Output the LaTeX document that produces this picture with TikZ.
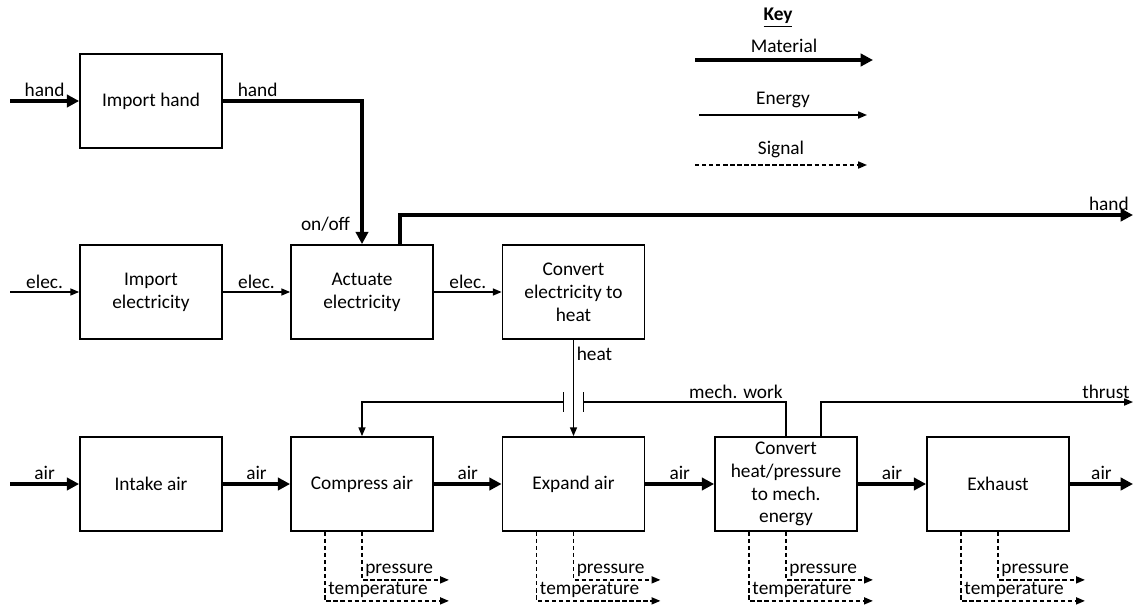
\documentclass[tikz,border=0pt]{standalone}
\usepackage{fontspec}
\setmainfont{Carlito}
\usetikzlibrary{arrows.meta, positioning, calc}

\begin{document}
\begin{tikzpicture}[
  func/.style={rectangle, draw, line width=1pt,
               minimum width=2.84cm, minimum height=1.88cm,
               inner sep=0pt, align=center, font=\fontsize{11}{13}\selectfont},
  lbl/.style={font=\fontsize{11}{13}\selectfont, inner sep=1.5pt},
  mat/.style={-{Triangle[length=7pt, width=7pt]}, line width=1.8pt},
  nrg/.style={-{Triangle[length=5pt, width=4pt]}, line width=0.8pt},
  sig/.style={-{Triangle[length=5pt, width=4pt]}, line width=0.8pt,
              dash pattern=on 2.5pt off 1.5pt}
]
\useasboundingbox (0,0) rectangle (22.7,12.14);

%% ---- Key ----
\node[lbl, font=\fontsize{11}{13}\selectfont\bfseries] (key) at (15.56,11.78) {\underline{Key}};
\coordinate (matA) at (13.90,10.94);
\coordinate (matB) at (17.46,10.94);
\coordinate (nrgA) at (13.98,9.84);
\coordinate (nrgB) at (17.34,9.84);
\coordinate (sigA) at (13.90,8.84);
\coordinate (sigB) at (17.34,8.84);
\draw[mat] (matA) -- node[lbl, above=2pt] {Material} (matB);
\draw[nrg] (nrgA) -- node[lbl, above=2pt] {Energy} (nrgB);
\draw[sig] (sigA) -- node[lbl, above=2pt] {Signal} (sigB);

%% ---- Top rows: hand / electricity ----
\node[func] (ihand)    at (3.02,10.12) {Import hand};
\node[func] (ielec)    at (3.02,6.30)  {Import\\electricity};
\node[func] (actelec)  at (7.24,6.30)  {Actuate\\electricity};
\node[func] (convelec) at (11.47,6.30) {Convert\\electricity to\\heat};

%% ---- Bottom row: air path ----
\node[func] (intake)   at (3.02,2.46)  {Intake air};
\node[func] (compress) at (7.24,2.46)  {Compress air};
\node[func] (expand)   at (11.47,2.46) {Expand air};
\node[func] (convheat) at (15.72,2.46) {Convert\\heat/pressure\\to mech.\\energy};
\node[func] (exhaust)  at (19.96,2.46) {Exhaust};

%% ---- Free ends ----
\coordinate (handin)    at (0.2,10.12);
\coordinate (elecin)    at (0.2,6.30);
\coordinate (airin)     at (0.2,2.46);
\coordinate (airout)    at (22.66,2.46);
\coordinate (handout)   at (22.66,7.84);
\coordinate (thrustout) at (22.66,4.10);
\coordinate (plL)       at (11.27,4.10);
\coordinate (plR)       at (11.67,4.10);

%% ---- Hand ----
\draw[mat] (handin) -- node[lbl, above] {hand} (ihand.west);
\draw[mat] (ihand.east) -- node[lbl, above, pos=0.25] {hand} (ihand.east -| actelec.north) -- (actelec.north);
\node[lbl, anchor=south east] (onoff) at ($(actelec.north)+(-0.18,0.2)$) {on/off};
\draw[mat] ($(actelec.north)+(0.76,0)$) |- node[lbl, pos=1, above left] {hand} (handout);

%% ---- Electricity ----
\draw[nrg] (elecin) -- node[lbl, above] {elec.} (ielec.west);
\draw[nrg] (ielec.east) -- node[lbl, above] {elec.} (actelec.west);
\draw[nrg] (actelec.east) -- node[lbl, above] {elec.} (convelec.west);
\draw[nrg] (convelec.south) -- node[lbl, right, pos=0.15] {heat} (expand.north);

%% ---- Mech. work (crossing) and thrust ----
\draw[line width=0.8pt] ($(plL)+(0,0.2)$) -- ($(plL)+(0,-0.2)$);
\draw[line width=0.8pt] ($(plR)+(0,0.2)$) -- ($(plR)+(0,-0.2)$);
\draw[nrg] (plL) -| (compress.north);
\draw[line width=0.8pt] (plR) -| node[lbl, pos=0.5, above left] {mech. work} (convheat.north);
\draw[nrg] ($(convheat.north)+(0.7,0)$) |- node[lbl, pos=1, above left] {thrust} (thrustout);

%% ---- Air ----
\draw[mat] (airin) -- node[lbl, above] {air} (intake.west);
\draw[mat] (intake.east) -- node[lbl, above] {air} (compress.west);
\draw[mat] (compress.east) -- node[lbl, above] {air} (expand.west);
\draw[mat] (expand.east) -- node[lbl, above] {air} (convheat.west);
\draw[mat] (convheat.east) -- node[lbl, above] {air} (exhaust.west);
\draw[mat] (exhaust.east) -- node[lbl, above] {air} (airout);

%% ---- Signals ----
\foreach \b in {compress, expand, convheat, exhaust} {
  \draw[sig] ($(\b.south west)+(0.7,0)$) |- node[lbl, pos=0.5, above right] {temperature} ($(\b.south east)+(0.3,-1.38)$);
  \draw[sig] (\b.south) |- node[lbl, pos=0.5, above right] {pressure} ($(\b.south east)+(0.3,-0.96)$);
}

\end{tikzpicture}
\end{document}
